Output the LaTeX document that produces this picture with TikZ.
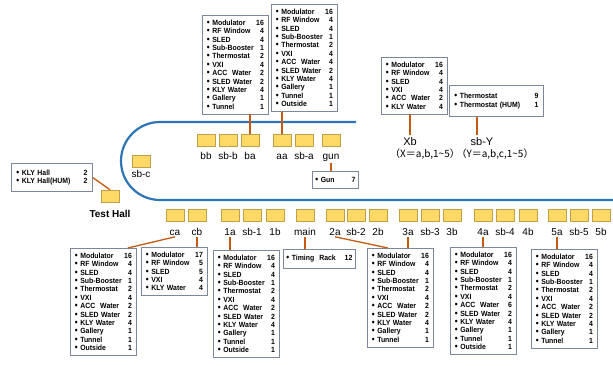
\documentclass[tikz,border=0pt]{standalone}
\usepackage{fontspec}
\setmainfont{Liberation Sans}
\newfontfamily\boxfont[FakeStretch=0.92]{Liberation Sans}
\newfontfamily\cjk{Noto Sans CJK JP}
\usetikzlibrary{calc}

\definecolor{beamblue}{RGB}{46,117,182}
\definecolor{conorange}{RGB}{197,90,17}
\definecolor{boxgray}{RGB}{125,135,155}
\definecolor{stayellow}{RGB}{255,217,102}
\definecolor{stagold}{RGB}{190,160,70}

\newcommand{\itm}[2]{{\fontsize{9}{8.4}\selectfont\textbullet}\ #1\hfill #2\\}

\begin{document}
\begin{tikzpicture}[x=1pt,y=-1pt,
  sta/.style={draw=stagold, fill=stayellow, line width=0.5pt, minimum width=18pt, minimum height=12pt, inner sep=0pt},
  lab/.style={font=\fontsize{10}{12}\selectfont, inner sep=1.5pt, anchor=base},
  lst/.style={draw=boxgray, line width=0.8pt, fill=white, anchor=north west, inner xsep=4.5pt, inner ysep=4.5pt, text width=57pt, align=left, font=\boxfont\bfseries\fontsize{7.5}{8.4}\selectfont},
  con/.style={conorange, line width=1.3pt},
  beam/.style={beamblue, line width=2.2pt}]
\useasboundingbox (0,0) rectangle (613,365);
% Linac
\draw[beam] (356,122) -- (160,122) arc[start angle=90, end angle=270, radius=39pt] -- (613,200);
% Sectors a, b
\foreach \n/\x in {bb/206,sb-b/228,ba/250,aa/282,sb-a/304,gun/331}{
  \node[sta] (\n) at (\x,140) {};
  \node[lab] (\n-l) at (\x,159) {\n};
}
\node[sta] (sb-c) at (141,161) {};
\node[lab] (sb-c-l) at (141,177.5) {sb-c};
% Sectors c, 1-5
\foreach \n/\x in {ca/175,cb/197,1a/230,sb-1/252,1b/275,main/305,2a/335,sb-2/356,2b/378,3a/408,sb-3/430,3b/452,4a/483,sb-4/505,4b/528,5a/557,sb-5/579,5b/601}{
  \node[sta] (\n) at (\x,215) {};
  \node[lab] (\n-l) at (\x,235) {\n};
}
% Test Hall
\node[sta] (th) at (110,196) {};
\node[lab, font=\bfseries\fontsize{10}{12}\selectfont] (th-l) at (110,217.5) {Test Hall};
\node[lst, text width=71pt, inner xsep=5pt, inner ysep=6.5pt] (lk) at (11,163) {\itm{KLY Hall}{2\hspace*{2pt}}\itm{KLY Hall(HUM)}{2\hspace*{2pt}}};
% Listas arriba
\node[lst] (la) at (202,15) {\itm{Modulator}{16}\itm{RF Window}{4}\itm{SLED}{4}\itm{Sub-Booster}{1}\itm{Thermostat}{2}\itm{VXI}{4}\itm{ACC\ \ Water}{2}\itm{SLED Water}{2}\itm{KLY Water}{4}\itm{Gallery}{1}\itm{Tunnel}{1}};
\node[lst] (lb) at (271,4) {\itm{Modulator}{16}\itm{RF Window}{4}\itm{SLED}{4}\itm{Sub-Booster}{1}\itm{Thermostat}{2}\itm{VXI}{4}\itm{ACC\ \ Water}{4}\itm{SLED Water}{2}\itm{KLY Water}{4}\itm{Gallery}{1}\itm{Tunnel}{1}\itm{Outside}{1}};
\node[lst, text width=40pt, inner xsep=3pt, inner ysep=6pt] (lg) at (312,171) {\itm{Gun}{7\hspace*{5pt}}};
% Leyenda Xb, sb-Y
\node[lst] (lx) at (381,57) {\itm{Modulator}{16}\itm{RF Window}{4}\itm{SLED}{4}\itm{VXI}{4}\itm{ACC\ \ Water}{2}\itm{KLY Water}{4}};
\node[lst, text width=84pt, inner xsep=5pt, inner ysep=7.8pt] (ly) at (449,85) {\itm{Thermostat}{9\hspace*{5pt}}\itm{Thermostat (HUM)}{1\hspace*{5pt}}};
\node[lab, font=\fontsize{11}{13}\selectfont] (xb-l) at (410,145) {Xb};
\node[lab, font=\cjk\fontsize{10}{12}\selectfont] (xr-l) at (425,157) {（X＝a,b,1\textasciitilde5）};
\node[lab, font=\fontsize{11}{13}\selectfont] (sby-l) at (482,145) {sb-Y};
\node[lab, font=\cjk\fontsize{10}{12}\selectfont] (yr-l) at (495,157) {（Y＝a,b,c,1\textasciitilde5）};
% Listas abajo
\node[lst] (c1) at (70,248) {\itm{Modulator}{16}\itm{RF Window}{4}\itm{SLED}{4}\itm{Sub-Booster}{1}\itm{Thermostat}{2}\itm{VXI}{4}\itm{ACC\ \ Water}{2}\itm{SLED Water}{2}\itm{KLY Water}{4}\itm{Gallery}{1}\itm{Tunnel}{1}\itm{Outside}{1}};
\node[lst] (c2) at (141,247) {\itm{Modulator}{17}\itm{RF Window}{5}\itm{SLED}{5}\itm{VXI}{4}\itm{KLY Water}{4}};
\node[lst] (l1) at (213,250) {\itm{Modulator}{16}\itm{RF Window}{4}\itm{SLED}{4}\itm{Sub-Booster}{1}\itm{Thermostat}{2}\itm{VXI}{4}\itm{ACC\ \ Water}{2}\itm{SLED Water}{2}\itm{KLY Water}{4}\itm{Gallery}{1}\itm{Tunnel}{1}\itm{Outside}{1}};
\node[lst, text width=66pt, inner xsep=3pt, inner ysep=6pt] (tr) at (283,249) {\itm{Timing\ \ Rack}{12}};
\node[lst] (l3) at (367,248) {\itm{Modulator}{16}\itm{RF Window}{4}\itm{SLED}{4}\itm{Sub-Booster}{1}\itm{Thermostat}{2}\itm{VXI}{4}\itm{ACC\ \ Water}{2}\itm{SLED Water}{2}\itm{KLY Water}{4}\itm{Gallery}{1}\itm{Tunnel}{1}};
\node[lst] (l4) at (450,247) {\itm{Modulator}{16}\itm{RF Window}{4}\itm{SLED}{4}\itm{Sub-Booster}{1}\itm{Thermostat}{2}\itm{VXI}{4}\itm{ACC\ \ Water}{6}\itm{SLED Water}{2}\itm{KLY Water}{4}\itm{Gallery}{1}\itm{Tunnel}{1}\itm{Outside}{1}};
\node[lst] (l5) at (531,249) {\itm{Modulator}{16}\itm{RF Window}{4}\itm{SLED}{4}\itm{Sub-Booster}{1}\itm{Thermostat}{2}\itm{VXI}{4}\itm{ACC\ \ Water}{2}\itm{SLED Water}{2}\itm{KLY Water}{4}\itm{Gallery}{1}\itm{Tunnel}{1}};
% Conexiones
\draw[con] (ba.north) -- (ba.north |- la.south);
\draw[con] (aa.north) -- (aa.north |- lb.south);
\draw[con] (gun-l.south) -- (gun-l.south |- lg.north);
\draw[con] (xb-l.north) -- (xb-l.north |- lx.south);
\coordinate (yc) at ($(sby-l.north)+(-5,0)$);
\draw[con] (yc) -- (yc |- ly.south);
\draw[con] (lk.east) -- (th.north);
\draw[con] (ca-l.south) -- ($(c1.north east)+(-9,0)$);
\draw[con] (cb-l.south) -- (cb-l.south |- c2.north);
\draw[con] (1a-l.south) -- (1a-l.south |- l1.north);
\draw[con] (main-l.south) -- (main-l.south |- tr.north);
\draw[con] (2a-l.south) -- ($(l3.north west)+(21,0)$);
\draw[con] (3a-l.south) -- (3a-l.south |- l3.north);
\draw[con] (4a-l.south) -- (4a-l.south |- l4.north);
\draw[con] (5a-l.south) -- (5a-l.south |- l5.north);
\end{tikzpicture}
\end{document}
